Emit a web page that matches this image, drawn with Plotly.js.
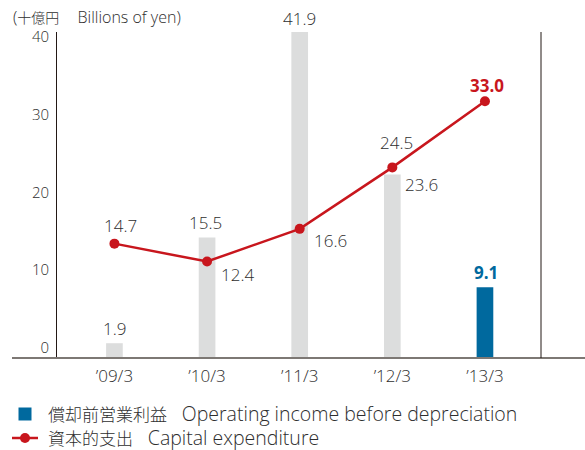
<!DOCTYPE html>
<html>
<head>
<meta charset="utf-8">
<script src="https://cdn.plot.ly/plotly-3.0.1.min.js"></script>
<style>html,body{margin:0;padding:0;background:#fff;}#chart{width:585px;height:450px;}</style>
</head>
<body>
<div id="chart"></div>
<script>
// ---- data ----
var categories = ["\u201909/3", "\u201910/3", "\u201911/3", "\u201912/3", "\u201913/3"];
var operatingIncome = [1.9, 15.5, 41.9, 23.6, 9.1];
var capitalExpenditure = [14.7, 12.4, 16.6, 24.5, 33.0];
var yTicks = [0, 10, 20, 30, 40];
var seriesNamesJa = ["償却前営業利益", "資本的支出"];
var seriesNamesEn = ["Operating income before depreciation", "Capital expenditure"];
var unitJa = "十億円", unitEn = "Billions of yen";

// ---- styles ----
var FONT = "'Open Sans', 'Noto Sans CJK JP', sans-serif";
var W = 300;
var TXT = "#2e2e2e";
var GRAY = "#DCDDDD", BLUE = "#00699E", RED = "#C8161D";
var M = {l:57, r:44, t:32, b:92};
var PW = 585 - M.l - M.r, PH = 450 - M.t - M.b;
function px(x) { return (x - M.l) / PW; }
function py(y) { return (450 - M.b - y) / PH; }

var barLabelStyle = [
  {xanchor:"center", yanchor:"bottom", xshift:0, yshift:1},
  {xanchor:"center", yanchor:"bottom", xshift:-2, yshift:1},
  {xanchor:"center", yanchor:"bottom", xshift:0, yshift:0},
  {xanchor:"left", yanchor:"middle", xshift:11, yshift:-10},
  {xanchor:"center", yanchor:"bottom", xshift:1, yshift:1, bold:true, color:BLUE}
];
var lineLabelStyle = [
  {xanchor:"center", yanchor:"middle", xshift:6, yshift:18},
  {xanchor:"left", yanchor:"middle", xshift:12, yshift:-13},
  {xanchor:"left", yanchor:"middle", xshift:12, yshift:-12},
  {xanchor:"center", yanchor:"middle", xshift:4, yshift:25},
  {xanchor:"center", yanchor:"middle", xshift:2, yshift:16, bold:true, color:RED}
];

var last = categories.length - 1;
var traces = [
  {type:"bar", x:categories.slice(0, last), y:operatingIncome.slice(0, last), width:0.18,
   marker:{color:GRAY}, showlegend:false, hoverinfo:"skip"},
  {type:"bar", x:categories.slice(last), y:operatingIncome.slice(last), width:0.18,
   marker:{color:BLUE}, showlegend:false},
  {type:"scatter", mode:"lines+markers", x:categories, y:capitalExpenditure,
   line:{color:RED, width:2.5}, marker:{color:RED, size:10}, showlegend:false}
];

var annotations = [];
function addLabels(vals, styles) {
  vals.forEach(function(v, i) {
    var s = styles[i];
    annotations.push({x:categories[i], y:v, xref:"x", yref:"y", text: v.toFixed(1),
      showarrow:false, xanchor:s.xanchor, yanchor:s.yanchor, xshift:s.xshift, yshift:s.yshift,
      font:{family:FONT, size:17, weight: s.bold ? 700 : W, color:s.color || TXT}});
  });
}
addLabels(operatingIncome, barLabelStyle);
addLabels(capitalExpenditure, lineLabelStyle);
annotations.push({xref:"paper", yref:"paper", x:px(11), y:py(17), xanchor:"left", yanchor:"middle",
  text:"(<span style='font-size:14px'>" + unitJa + "\u3000</span> " + unitEn + ")", showarrow:false,
  font:{family:FONT, size:16, weight:W, color:TXT}});

// manual legend
var legendRows = [414, 437];
seriesNamesJa.forEach(function(ja, i) {
  annotations.push({xref:"paper", yref:"paper", x:px(46), y:py(legendRows[i]), xanchor:"left", yanchor:"middle",
    showarrow:false, text:"<span style='font-size:17px'>" + ja + "</span>\u2002 " + seriesNamesEn[i],
    font:{family:FONT, size:19.5, weight:W, color:TXT}});
});

var layout = {
  width:585, height:450,
  margin:{l:M.l, r:M.r, t:M.t, b:M.b, pad:0},
  paper_bgcolor:"#fff", plot_bgcolor:"#fff",
  barmode:"overlay",
  font:{family:FONT, color:TXT, weight:W},
  showlegend:false,
  xaxis:{type:"category", range:[-0.62, 4.605], showgrid:false, zeroline:false, showline:false,
    ticks:"", tickfont:{family:FONT, size:17, weight:W, color:TXT}, ticklabelstandoff:6, fixedrange:true, automargin:false},
  yaxis:{range:[0, 41.9], tickvals:yTicks, showgrid:false, zeroline:false, showline:true,
    linecolor:"#231815", linewidth:1, ticks:"", ticklabelshift:-10, ticklabelstandoff:4,
    tickfont:{family:FONT, size:15, weight:W, color:TXT}, fixedrange:true, automargin:false},
  shapes:[
    {type:"line", xref:"paper", yref:"paper", x0:px(12), x1:px(585), y0:0, y1:0,
     line:{color:"#7d7874", width:2}},
    {type:"line", xref:"paper", yref:"paper", x0:1, x1:1, y0:0, y1:1,
     line:{color:"#231815", width:1}},
    // legend symbols
    {type:"rect", xref:"paper", yref:"paper", x0:px(18.5), x1:px(31.5), y0:py(420.5), y1:py(407.5),
     fillcolor:BLUE, line:{width:0}},
    {type:"line", xref:"paper", yref:"paper", x0:px(12), x1:px(38), y0:py(438), y1:py(438),
     line:{color:RED, width:2.5}},
    {type:"circle", xref:"paper", yref:"paper", x0:px(20), x1:px(30), y0:py(443), y1:py(433),
     fillcolor:RED, line:{width:0}}
  ],
  annotations:annotations
};
Plotly.newPlot("chart", traces, layout, {displayModeBar:false, staticPlot:true});
</script>
</body>
</html>
